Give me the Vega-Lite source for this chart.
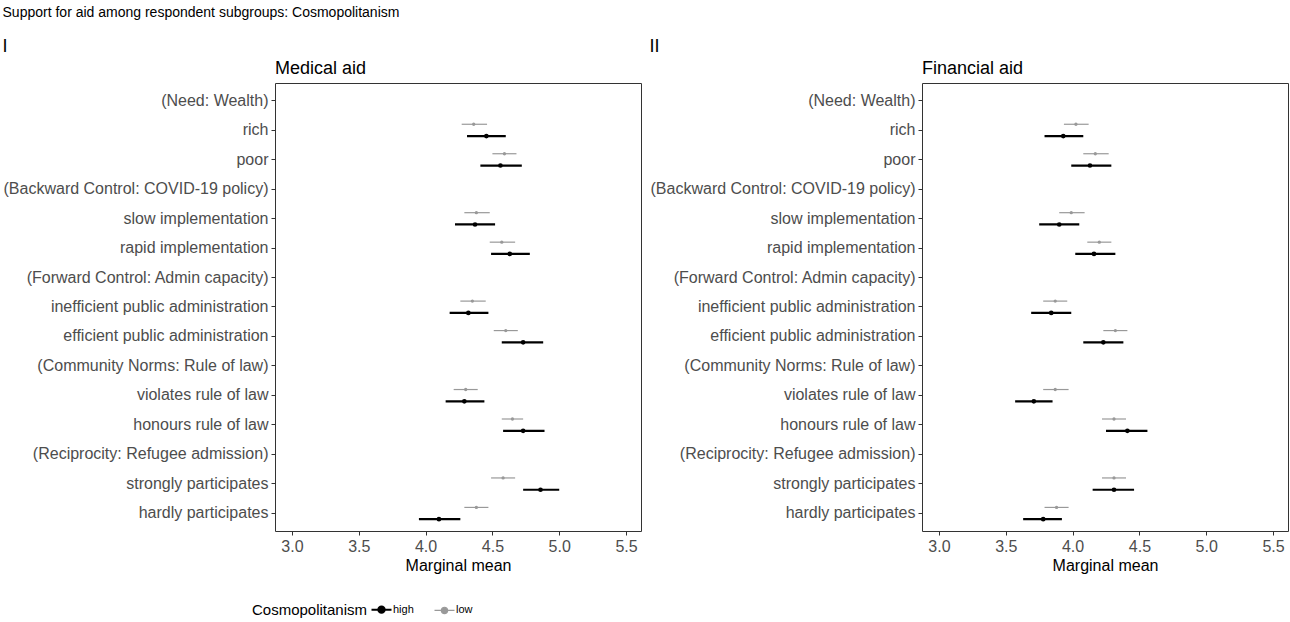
{
  "$schema": "https://vega.github.io/schema/vega-lite/v6.json",
  "padding": {"left": 2, "top": 5, "right": 0, "bottom": 0},
  "title": {
    "text": "Support for aid among respondent subgroups: Cosmopolitanism",
    "anchor": "start",
    "frame": "bounds",
    "fontSize": 14,
    "offset": 18
  },
  "data": {
    "values": [
      {"panel": "Medical aid", "level": "rich", "group": "low", "mean": 4.36, "lo": 4.27, "hi": 4.46},
      {"panel": "Medical aid", "level": "rich", "group": "high", "mean": 4.455, "lo": 4.31, "hi": 4.6},
      {"panel": "Medical aid", "level": "poor", "group": "low", "mean": 4.59, "lo": 4.5, "hi": 4.68},
      {"panel": "Medical aid", "level": "poor", "group": "high", "mean": 4.56, "lo": 4.41, "hi": 4.72},
      {"panel": "Medical aid", "level": "slow implementation", "group": "low", "mean": 4.38, "lo": 4.29, "hi": 4.48},
      {"panel": "Medical aid", "level": "slow implementation", "group": "high", "mean": 4.37, "lo": 4.22, "hi": 4.52},
      {"panel": "Medical aid", "level": "rapid implementation", "group": "low", "mean": 4.57, "lo": 4.48, "hi": 4.67},
      {"panel": "Medical aid", "level": "rapid implementation", "group": "high", "mean": 4.63, "lo": 4.49, "hi": 4.78},
      {"panel": "Medical aid", "level": "inefficient public administration", "group": "low", "mean": 4.35, "lo": 4.26, "hi": 4.45},
      {"panel": "Medical aid", "level": "inefficient public administration", "group": "high", "mean": 4.32, "lo": 4.18, "hi": 4.47},
      {"panel": "Medical aid", "level": "efficient public administration", "group": "low", "mean": 4.6, "lo": 4.51, "hi": 4.69},
      {"panel": "Medical aid", "level": "efficient public administration", "group": "high", "mean": 4.73, "lo": 4.57, "hi": 4.88},
      {"panel": "Medical aid", "level": "violates rule of law", "group": "low", "mean": 4.3, "lo": 4.21, "hi": 4.39},
      {"panel": "Medical aid", "level": "violates rule of law", "group": "high", "mean": 4.29, "lo": 4.15, "hi": 4.44},
      {"panel": "Medical aid", "level": "honours rule of law", "group": "low", "mean": 4.65, "lo": 4.57, "hi": 4.73},
      {"panel": "Medical aid", "level": "honours rule of law", "group": "high", "mean": 4.73, "lo": 4.58, "hi": 4.89},
      {"panel": "Medical aid", "level": "strongly participates", "group": "low", "mean": 4.58, "lo": 4.49, "hi": 4.67},
      {"panel": "Medical aid", "level": "strongly participates", "group": "high", "mean": 4.86, "lo": 4.73, "hi": 5.0},
      {"panel": "Medical aid", "level": "hardly participates", "group": "low", "mean": 4.38, "lo": 4.29, "hi": 4.47},
      {"panel": "Medical aid", "level": "hardly participates", "group": "high", "mean": 4.1, "lo": 3.95, "hi": 4.26},
      {"panel": "Financial aid", "level": "rich", "group": "low", "mean": 4.025, "lo": 3.935, "hi": 4.12},
      {"panel": "Financial aid", "level": "rich", "group": "high", "mean": 3.93, "lo": 3.79, "hi": 4.08},
      {"panel": "Financial aid", "level": "poor", "group": "low", "mean": 4.17, "lo": 4.08, "hi": 4.27},
      {"panel": "Financial aid", "level": "poor", "group": "high", "mean": 4.13, "lo": 3.99, "hi": 4.29},
      {"panel": "Financial aid", "level": "slow implementation", "group": "low", "mean": 3.99, "lo": 3.9, "hi": 4.09},
      {"panel": "Financial aid", "level": "slow implementation", "group": "high", "mean": 3.9, "lo": 3.75, "hi": 4.05},
      {"panel": "Financial aid", "level": "rapid implementation", "group": "low", "mean": 4.2, "lo": 4.11, "hi": 4.29},
      {"panel": "Financial aid", "level": "rapid implementation", "group": "high", "mean": 4.16, "lo": 4.02, "hi": 4.32},
      {"panel": "Financial aid", "level": "inefficient public administration", "group": "low", "mean": 3.87, "lo": 3.78, "hi": 3.96},
      {"panel": "Financial aid", "level": "inefficient public administration", "group": "high", "mean": 3.84, "lo": 3.69, "hi": 3.99},
      {"panel": "Financial aid", "level": "efficient public administration", "group": "low", "mean": 4.32, "lo": 4.23, "hi": 4.41},
      {"panel": "Financial aid", "level": "efficient public administration", "group": "high", "mean": 4.23, "lo": 4.08, "hi": 4.38},
      {"panel": "Financial aid", "level": "violates rule of law", "group": "low", "mean": 3.87, "lo": 3.78, "hi": 3.97},
      {"panel": "Financial aid", "level": "violates rule of law", "group": "high", "mean": 3.71, "lo": 3.57, "hi": 3.85},
      {"panel": "Financial aid", "level": "honours rule of law", "group": "low", "mean": 4.31, "lo": 4.22, "hi": 4.4},
      {"panel": "Financial aid", "level": "honours rule of law", "group": "high", "mean": 4.41, "lo": 4.25, "hi": 4.56},
      {"panel": "Financial aid", "level": "strongly participates", "group": "low", "mean": 4.31, "lo": 4.22, "hi": 4.4},
      {"panel": "Financial aid", "level": "strongly participates", "group": "high", "mean": 4.31, "lo": 4.15, "hi": 4.46},
      {"panel": "Financial aid", "level": "hardly participates", "group": "low", "mean": 3.88, "lo": 3.79, "hi": 3.97},
      {"panel": "Financial aid", "level": "hardly participates", "group": "high", "mean": 3.78, "lo": 3.63, "hi": 3.92}
    ]
  },
  "spacing": 7,
  "hconcat": [
    {
      "title": {"text": "I", "anchor": "start", "frame": "bounds", "fontSize": 18, "offset": 4},
      "vconcat": [
        {
          "width": 366,
          "height": 448,
          "title": {"text": "Medical aid", "anchor": "start", "frame": "group", "fontSize": 18, "offset": 5},
          "transform": [{"filter": "datum.panel === 'Medical aid'"}],
          "encoding": {
            "y": {
              "field": "level",
              "type": "nominal",
              "scale": {
                "domain": ["(Need: Wealth)", "rich", "poor", "(Backward Control: COVID-19 policy)", "slow implementation", "rapid implementation", "(Forward Control: Admin capacity)", "inefficient public administration", "efficient public administration", "(Community Norms: Rule of law)", "violates rule of law", "honours rule of law", "(Reciprocity: Refugee admission)", "strongly participates", "hardly participates"],
                "paddingInner": 0,
                "paddingOuter": 0.1
              },
              "axis": {"title": null}
            },
            "yOffset": {
              "field": "group",
              "type": "nominal",
              "scale": {"domain": ["low", "high"], "paddingInner": 0, "paddingOuter": 0.25}
            },
            "color": {
              "field": "group",
              "type": "nominal",
              "title": "Cosmopolitanism",
              "scale": {"domain": ["high", "low"], "range": ["#000000", "#999999"]},
              "legend": {
                "encode": {
                  "symbols": {
                    "update": {
                      "stroke": {"signal": "datum.value === 'high' ? '#000000' : '#999999'"},
                      "fill": {"signal": "datum.value === 'high' ? '#000000' : '#999999'"},
                      "strokeWidth": {"signal": "datum.value === 'high' ? 2 : 1.2"}
                    }
                  }
                }
              }
            }
          },
          "layer": [
            {
              "mark": {"type": "rule"},
              "encoding": {
                "x": {
                  "field": "lo",
                  "type": "quantitative",
                  "title": "Marginal mean",
                  "scale": {"domain": [2.873, 5.612], "nice": false, "zero": false},
                  "axis": {"values": [3, 3.5, 4, 4.5, 5, 5.5], "format": ".1f"}
                },
                "x2": {"field": "hi"},
                "strokeWidth": {"condition": {"test": "datum.group === 'high'", "value": 2.2}, "value": 1.2}
              }
            },
            {
              "mark": {"type": "point", "filled": true, "opacity": 1},
              "encoding": {
                "x": {"field": "mean", "type": "quantitative"},
                "size": {"condition": {"test": "datum.group === 'high'", "value": 22}, "value": 11}
              }
            }
          ]
        }
      ]
    },
    {
      "title": {"text": "II", "anchor": "start", "frame": "bounds", "fontSize": 18, "offset": 4},
      "vconcat": [
        {
          "width": 366,
          "height": 448,
          "title": {"text": "Financial aid", "anchor": "start", "frame": "group", "fontSize": 18, "offset": 5},
          "transform": [{"filter": "datum.panel === 'Financial aid'"}],
          "encoding": {
            "y": {
              "field": "level",
              "type": "nominal",
              "scale": {
                "domain": ["(Need: Wealth)", "rich", "poor", "(Backward Control: COVID-19 policy)", "slow implementation", "rapid implementation", "(Forward Control: Admin capacity)", "inefficient public administration", "efficient public administration", "(Community Norms: Rule of law)", "violates rule of law", "honours rule of law", "(Reciprocity: Refugee admission)", "strongly participates", "hardly participates"],
                "paddingInner": 0,
                "paddingOuter": 0.1
              },
              "axis": {"title": null}
            },
            "yOffset": {
              "field": "group",
              "type": "nominal",
              "scale": {"domain": ["low", "high"], "paddingInner": 0, "paddingOuter": 0.25}
            },
            "color": {
              "field": "group",
              "type": "nominal",
              "title": "Cosmopolitanism",
              "scale": {"domain": ["high", "low"], "range": ["#000000", "#999999"]},
              "legend": {
                "encode": {
                  "symbols": {
                    "update": {
                      "stroke": {"signal": "datum.value === 'high' ? '#000000' : '#999999'"},
                      "fill": {"signal": "datum.value === 'high' ? '#000000' : '#999999'"},
                      "strokeWidth": {"signal": "datum.value === 'high' ? 2 : 1.2"}
                    }
                  }
                }
              }
            }
          },
          "layer": [
            {
              "mark": {"type": "rule"},
              "encoding": {
                "x": {
                  "field": "lo",
                  "type": "quantitative",
                  "title": "Marginal mean",
                  "scale": {"domain": [2.873, 5.612], "nice": false, "zero": false},
                  "axis": {"values": [3, 3.5, 4, 4.5, 5, 5.5], "format": ".1f"}
                },
                "x2": {"field": "hi"},
                "strokeWidth": {"condition": {"test": "datum.group === 'high'", "value": 2.2}, "value": 1.2}
              }
            },
            {
              "mark": {"type": "point", "filled": true, "opacity": 1},
              "encoding": {
                "x": {"field": "mean", "type": "quantitative"},
                "size": {"condition": {"test": "datum.group === 'high'", "value": 22}, "value": 11}
              }
            }
          ]
        }
      ]
    }
  ],
  "config": {
    "font": "Liberation Sans",
    "view": {"stroke": "#333333", "strokeWidth": 1},
    "axis": {
      "domain": false,
      "grid": false,
      "tickColor": "#333333",
      "tickSize": 4,
      "labelColor": "#4d4d4d",
      "labelFontSize": 16,
      "labelLimit": 0,
      "labelPadding": 3,
      "titleFontSize": 16,
      "titleFontWeight": "normal",
      "titleColor": "#000000",
      "titlePadding": 3
    },
    "title": {"fontWeight": "normal", "color": "#000000"},
    "legend": {
      "orient": "none",
      "legendX": -23,
      "legendY": 521,
      "direction": "horizontal",
      "titleOrient": "left",
      "titleFontSize": 15,
      "titleFontWeight": "normal",
      "titleColor": "#000000",
      "titlePadding": 8,
      "labelFontSize": 11,
      "labelColor": "#000000",
      "labelOffset": 6,
      "columnPadding": 18,
      "symbolType": "M-1,0H1M-0.32,0A0.32,0.32,0,1,1,0.32,0A0.32,0.32,0,1,1,-0.32,0Z",
      "symbolSize": 400
    }
  }
}
